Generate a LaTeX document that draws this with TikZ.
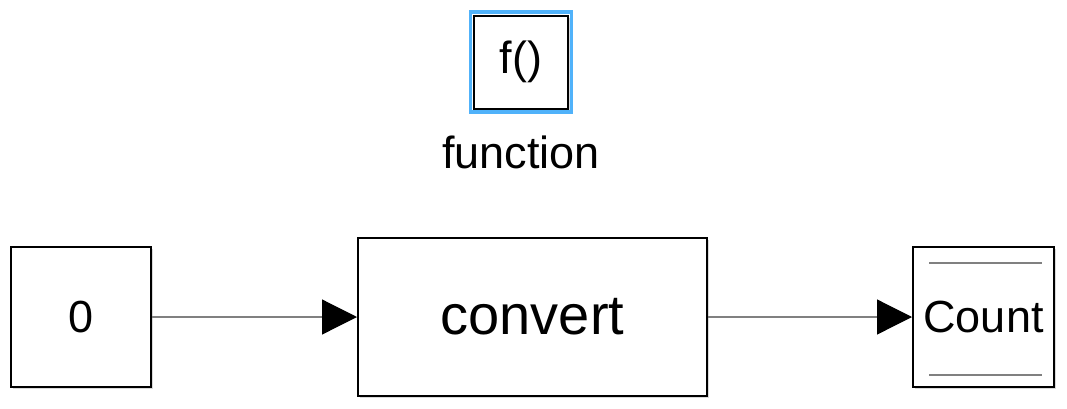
\documentclass[tikz,border=0pt]{standalone}
\usepackage{fontspec}
\setmainfont{Liberation Sans}
\usetikzlibrary{arrows.meta,shadows}
\definecolor{selblue}{RGB}{80,178,250}
\definecolor{wiregray}{RGB}{128,128,128}
\tikzset{
  block/.style={draw=black, line width=2pt, fill=white, inner sep=0pt,
    drop shadow={shadow xshift=2pt, shadow yshift=-2pt, opacity=0.3},
    font=\fontsize{45}{50}\selectfont},
  wire/.style={draw=wiregray, line width=1.2pt,
    -{Triangle[length=35pt, width=35pt, black]}},
}
\begin{document}
\begin{tikzpicture}[x=1pt, y=-1pt]
    \useasboundingbox (0,0) rectangle (1067,408);
    \node[block, minimum width=94pt, minimum height=93pt] (fcn) at (521,62) {f()};
    \draw[selblue, line width=3.5pt] ([xshift=-2.6pt, yshift=2.6pt]fcn.north west) rectangle ([xshift=2.6pt, yshift=-2.6pt]fcn.south east);
    \node[anchor=base, font=\fontsize{45}{50}\selectfont] (fcnlabel) at (521,168) {function};
    \node[block, minimum width=140pt, minimum height=140pt] (const) at (81,317) {0};
    \node[block, minimum width=349pt, minimum height=158pt, font=\fontsize{56}{60}\selectfont] (convert) at (532.5,317) {convert};
    \node[block, minimum width=141pt, minimum height=140pt] (count) at (983.5,317) {Count};
    \draw[wiregray, line width=2pt] (929,263) -- (1042,263);
    \draw[wiregray, line width=2pt] (929,375) -- (1042,375);
    \draw[wire] (const.east) -- (convert.west);
    \draw[wire] (convert.east) -- (count.west);
  \end{tikzpicture}
\end{document}
